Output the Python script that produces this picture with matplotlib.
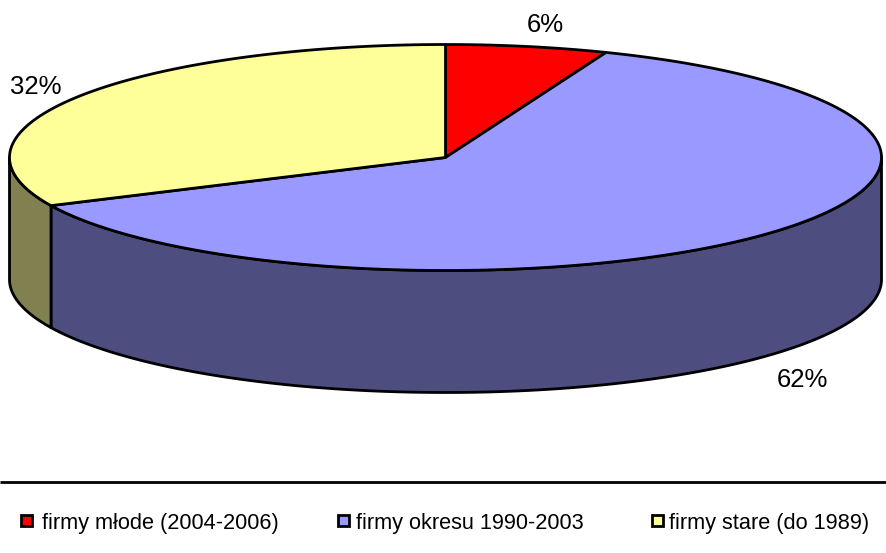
import numpy as np
import matplotlib
matplotlib.use('Agg')
import matplotlib.pyplot as plt
from matplotlib.patches import Polygon, Rectangle

plt.rcParams['font.family'] = ['Liberation Sans', 'DejaVu Sans']

W, H = 887, 553

labels = ['firmy młode (2004-2006)', 'firmy okresu 1990-2003', 'firmy stare (do 1989)']
values = [6, 62, 32]
top_colors = ['#ff0000', '#9999ff', '#ffff99']
side_colors = ['#800000', '#4d4d80', '#808050']

# pie geometry in pixels
cx, cy = 445.5, 157.5
rx, ry = 436, 113
depth = 122


def rim(a0, a1, n=200):
    # angles clockwise from the top, degrees
    t = np.radians(np.linspace(a0, a1, n))
    return cx + rx * np.sin(t), cy - ry * np.cos(t)


fig = plt.figure(figsize=(W / 100, H / 100), dpi=100)
ax = fig.add_axes([0, 0, 1, 1])
ax.set_xlim(0, W)
ax.set_ylim(H, 0)
ax.axis('off')

edges = np.concatenate([[0], np.cumsum(values)]) * 3.6

# side walls, only the front half of the rim shows
for i in range(len(values)):
    a0 = max(edges[i], 90)
    a1 = min(edges[i + 1], 270)
    if a1 <= a0:
        continue
    x, y = rim(a0, a1)
    pts = np.concatenate([np.c_[x, y], np.c_[x, y + depth][::-1]])
    ax.add_patch(Polygon(pts, closed=True, facecolor=side_colors[i],
                         edgecolor='black', linewidth=2, joinstyle='round', zorder=2))

# top slices
for i in range(len(values)):
    x, y = rim(edges[i], edges[i + 1])
    pts = np.concatenate([[[cx, cy]], np.c_[x, y]])
    ax.add_patch(Polygon(pts, closed=True, facecolor=top_colors[i],
                         edgecolor='black', linewidth=2, joinstyle='round', zorder=3))

# percent labels
ax.text(545, 25.5, '6%', fontsize=18.5, ha='center', va='center')
ax.text(802, 380, '62%', fontsize=18.5, ha='center', va='center')
ax.text(36, 87, '32%', fontsize=18.5, ha='center', va='center')

# legend
ax.plot([0, W], [482, 482], color='black', linewidth=2, solid_capstyle='butt')
box_x = [21, 338, 652]
text_x = [42, 356, 669]
for i, name in enumerate(labels):
    ax.add_patch(Rectangle((box_x[i], 515), 11, 11, facecolor=top_colors[i],
                           edgecolor='black', linewidth=2))
    ax.text(text_x[i], 523.5, name, fontsize=15.7, ha='left', va='center')

fig.savefig('out.png', dpi=100)
